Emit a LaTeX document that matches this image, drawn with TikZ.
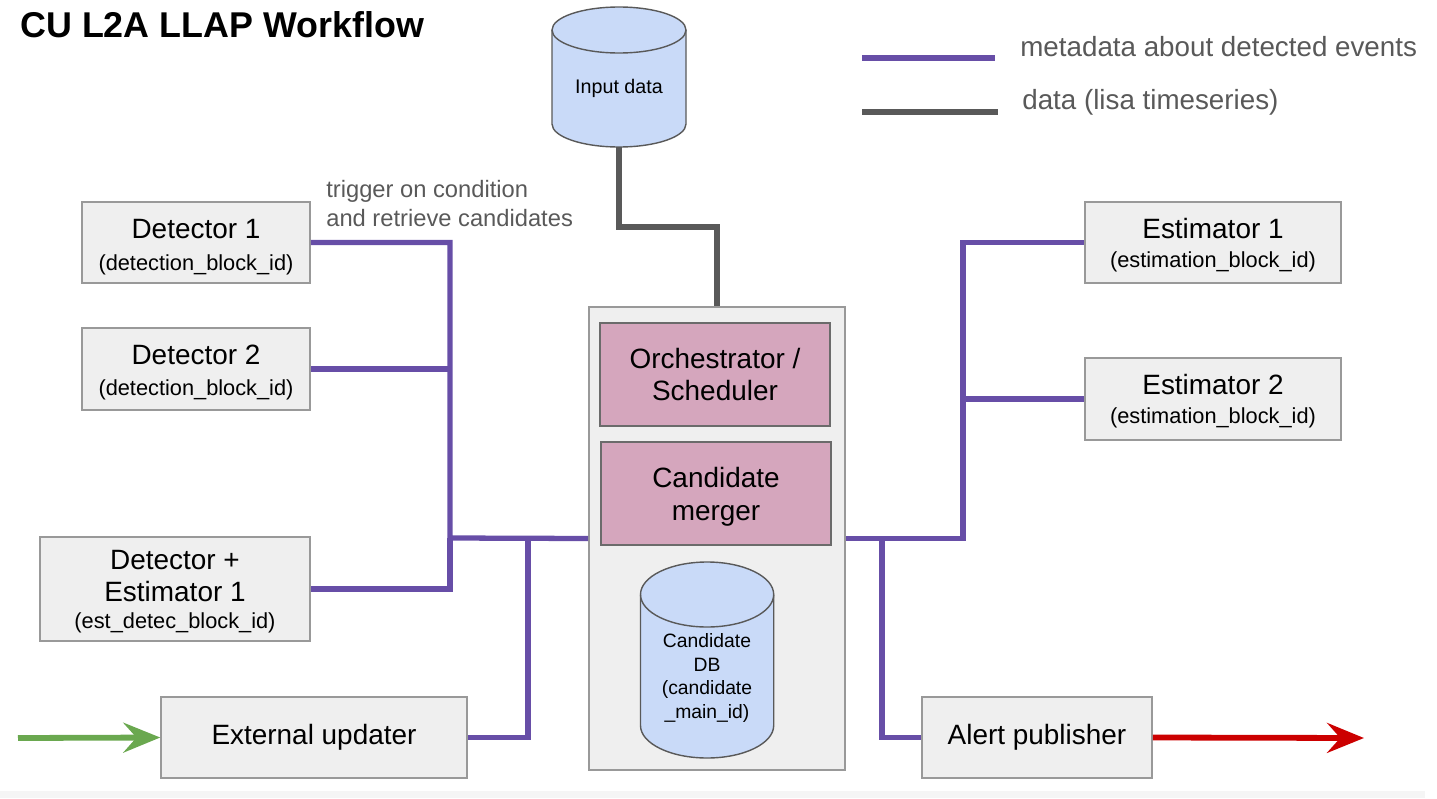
\documentclass[tikz,border=0pt]{standalone}
\usepackage{fontspec}
\setmainfont{Liberation Sans}
\usetikzlibrary{calc,arrows.meta}
\definecolor{metapurple}{HTML}{674EA7}
\definecolor{datagrey}{HTML}{595959}
\definecolor{boxfill}{HTML}{EFEFEF}
\definecolor{boxline}{HTML}{999999}
\definecolor{pinkfill}{HTML}{D5A6BD}
\definecolor{dbfill}{HTML}{C9DAF8}
\definecolor{ingreen}{HTML}{6AA84F}
\definecolor{outred}{HTML}{CC0000}
\tikzset{
  block/.style={draw=boxline,fill=boxfill,line width=0.9pt,align=center,inner sep=0pt,
    font=\fontsize{15.9}{17.5}\selectfont},
  task/.style={block,draw=boxline!70!black,fill=pinkfill},
  metaline/.style={draw=metapurple,line width=3pt},
  dataline/.style={draw=datagrey,line width=3pt},
  db/.style={draw=datagrey,fill=dbfill,line width=0.8pt},
  flow/.style={line width=3.3pt,-{Stealth[length=21pt,width=17pt,inset=7.5pt]}},
  note/.style={text=datagrey,inner sep=0pt},
}
\newcommand{\blockid}[1]{{\fontsize{12.4}{14}\selectfont(#1)}}

\begin{document}
\begin{tikzpicture}[x=0.02cm,y=-0.02cm]
  \useasboundingbox (0,0) rectangle (1437,798);
  \fill[black!4] (0,791) rectangle (1425,798);
  \node[anchor=base west,inner sep=0pt,font=\fontsize{20.4}{23}\selectfont\bfseries] (title) at (20,37) {CU L2A LLAP Workflow};

  % legend
  \coordinate (legmeta) at (862,58);
  \coordinate (legdata) at (862,112);
  \draw[metaline,line width=3.4pt] (legmeta) -- ++(133,0);
  \draw[dataline,line width=3.4pt] (legdata) -- ++(136,0);
  \node[note,anchor=base west,font=\fontsize{15.8}{18}\selectfont] (legmetatxt) at (1020,56) {metadata about detected events};
  \node[note,anchor=base west,font=\fontsize{15.8}{18}\selectfont] (legdatatxt) at (1022,109) {data (lisa timeseries)};

  % input data store
  \draw[db] (552,30) -- (552,124) arc[start angle=180,end angle=0,x radius=67,y radius=23]
     -- (686,30) arc[start angle=0,end angle=-180,x radius=67,y radius=23] -- cycle;
  \draw[db,fill=none] (552,30) arc[start angle=180,end angle=0,x radius=67,y radius=23];
  \node[inner sep=0pt,font=\fontsize{11.2}{13}\selectfont] (input) at (619,88) {Input data};
  \coordinate (inputout) at (619,147);

  % central unit
  \node[block,minimum width=5.12cm,minimum height=9.26cm] (core) at (717,538.5) {};
  \node[task,minimum width=4.6cm,minimum height=2.06cm] (orch) at (715,374.5) {Orchestrator /\\[0.5pt]Scheduler};
  \node[task,minimum width=4.6cm,minimum height=2.06cm] (merger) at (716,493.5) {\rule{0pt}{15pt}Candidate\\[1.5pt]merger};
  \draw[db] (640.5,594.5) -- (640.5,725.5) arc[start angle=180,end angle=0,x radius=66.6,y radius=32.5]
     -- (773.7,594.5) arc[start angle=0,end angle=-180,x radius=66.6,y radius=32.5] -- cycle;
  \draw[db,fill=none] (640.5,594.5) arc[start angle=180,end angle=0,x radius=66.6,y radius=32.5];
  \node[inner sep=0pt,align=center,font=\fontsize{11}{13.6}\selectfont] (candb) at (707,678)
     {Candidate\\DB\\(candidate\\\_main\_id)};

  % detectors
  \node[block,minimum width=4.56cm,minimum height=1.62cm] (det1) at (196,242.5) {\rule{0pt}{16pt}Detector 1\\[0.5pt]\blockid{detection\_block\_id}};
  \node[block,minimum width=4.56cm,minimum height=1.64cm] (det2) at (196,369) {\rule{0pt}{15pt}Detector 2\\[0.5pt]\blockid{detection\_block\_id}};
  \node[block,minimum width=5.4cm,minimum height=2.08cm] (detest) at (175,589) {\rule{0pt}{14pt}Detector +\\[0.5pt]Estimator 1\\[-2pt]\blockid{est\_detec\_block\_id}};
  \node[block,minimum width=6.12cm,minimum height=1.62cm] (extupd) at (314,737.5) {External updater};

  % estimators
  \node[block,minimum width=5.12cm,minimum height=1.62cm] (est1) at (1213,242.5) {\rule{0pt}{14pt}Estimator 1\\[-1pt]\blockid{estimation\_block\_id}};
  \node[block,minimum width=5.12cm,minimum height=1.64cm] (est2) at (1213,399) {\rule{0pt}{14pt}Estimator 2\\[-1pt]\blockid{estimation\_block\_id}};
  \node[block,minimum width=4.6cm,minimum height=1.62cm] (alert) at (1037,737.5) {Alert publisher};

  \node[note,anchor=north west,align=left,font=\fontsize{13.5}{16.4}\selectfont] (trigger) at (326,180)
     {trigger on condition\\and retrieve candidates};

  % wiring
  \coordinate (lbus) at (450,538);
  \coordinate (ljoin) at (528,538);
  \coordinate (rbus) at (963,538);
  \coordinate (rjoin) at (882,538);
  \draw[dataline] (inputout) -- ++(0,80) -| (core.north);
  \draw[metaline] (det1.east) -| (lbus) -- (core.west);
  \draw[metaline] (det2.east) -- (det2.east -| lbus);
  \draw[metaline] (detest.east) -| (lbus);
  \draw[metaline] (extupd.east) -| (ljoin);
  \draw[metaline] (core.east) -| (rbus) |- (est1.west);
  \draw[metaline] (est2.west) -- (est2.west -| rbus);
  \draw[metaline] (rjoin) |- (alert.west);

  \coordinate (inflow) at (18,738);
  \coordinate (outflow) at (1364,738);
  \draw[flow,ingreen] (inflow) -- (extupd.west);
  \draw[flow,outred] (alert.east) -- (outflow);
\end{tikzpicture}
\end{document}
